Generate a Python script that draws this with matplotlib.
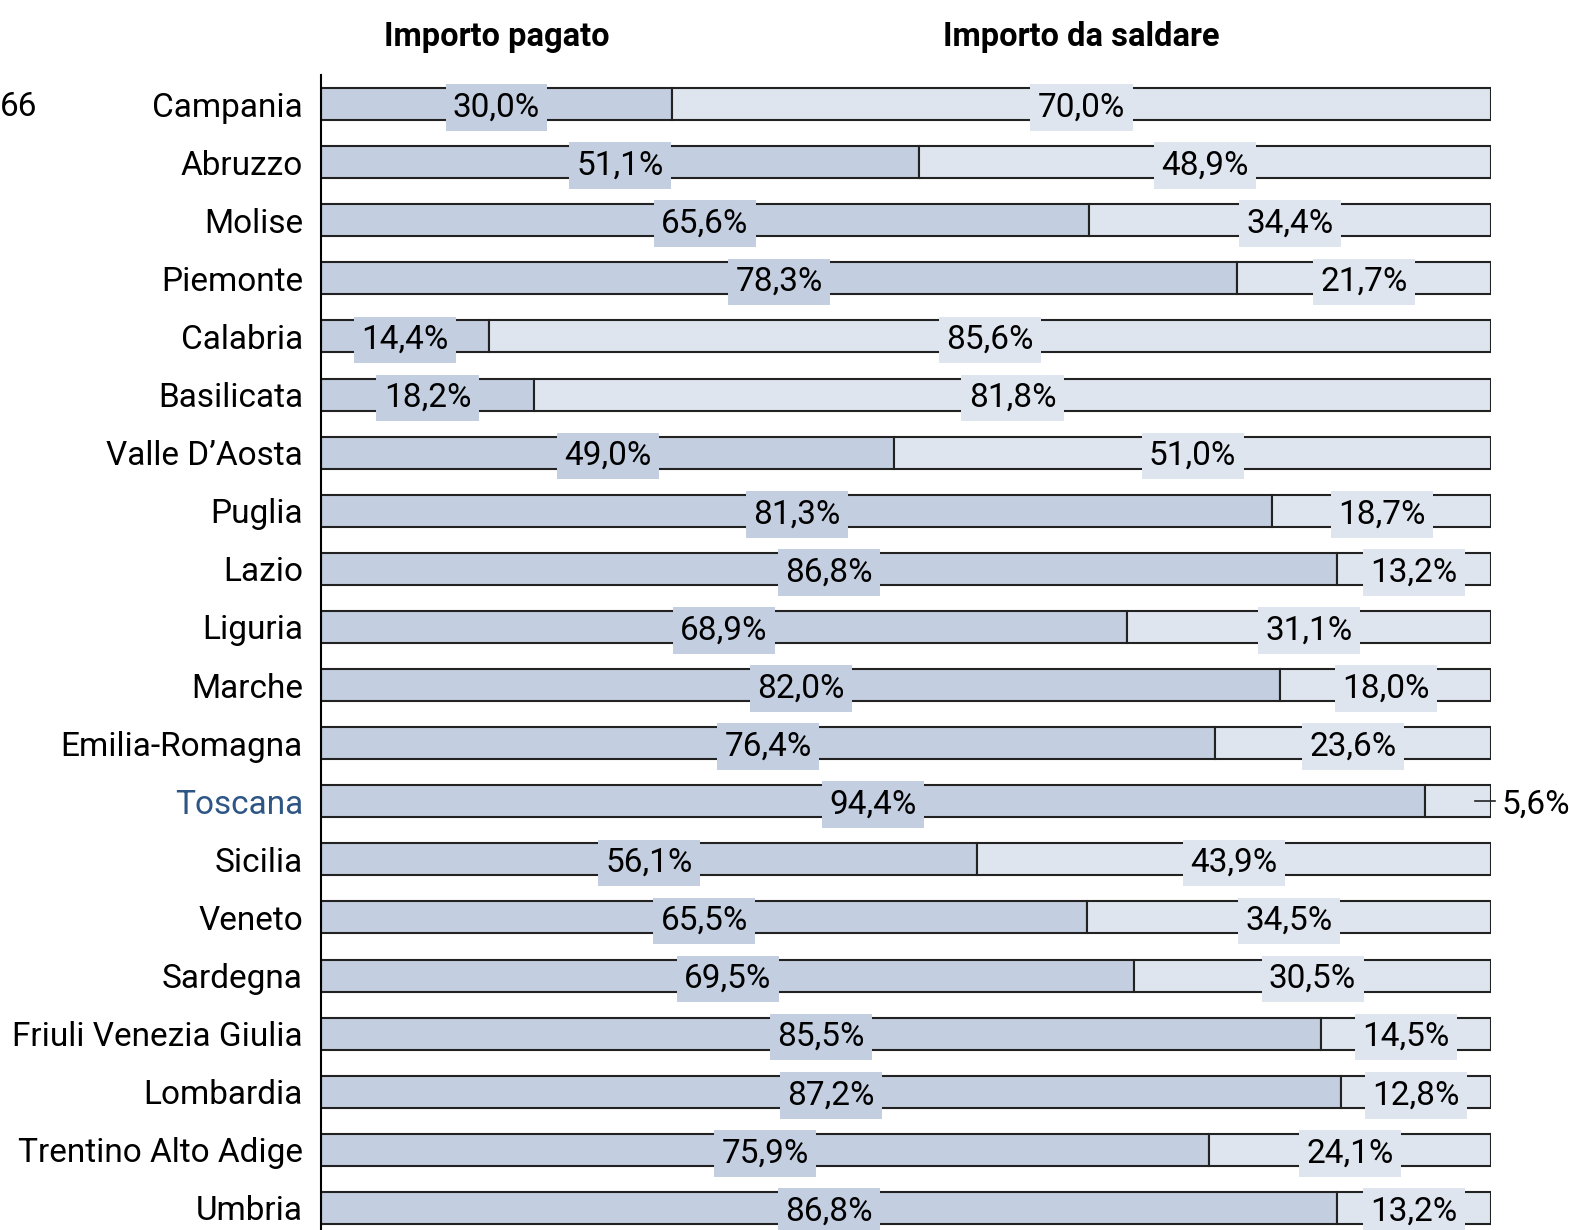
import numpy as np
import matplotlib
matplotlib.use("Agg")
import matplotlib.pyplot as plt


# Data
regions = ["Campania", "Abruzzo", "Molise", "Piemonte", "Calabria", "Basilicata",
           "Valle D\u2019Aosta", "Puglia", "Lazio", "Liguria", "Marche",
           "Emilia-Romagna", "Toscana", "Sicilia", "Veneto", "Sardegna",
           "Friuli Venezia Giulia", "Lombardia", "Trentino Alto Adige", "Umbria"]
pagato = [30.0, 51.1, 65.6, 78.3, 14.4, 18.2, 49.0, 81.3, 86.8, 68.9,
          82.0, 76.4, 94.4, 56.1, 65.5, 69.5, 85.5, 87.2, 75.9, 86.8]
saldare = [70.0, 48.9, 34.4, 21.7, 85.6, 81.8, 51.0, 18.7, 13.2, 31.1,
           18.0, 23.6, 5.6, 43.9, 34.5, 30.5, 14.5, 12.8, 24.1, 13.2]
series_titles = ["Importo pagato", "Importo da saldare"]
highlight = "Toscana"

col_pag = "#c3cee0"
col_sal = "#dfe5ef"
col_hl = "#2e5685"

plt.rcParams['font.family'] = ['Roboto', 'DejaVu Sans']

fig = plt.figure(figsize=(15.69, 12.30), dpi=100)
ax = fig.add_axes([321/1569, 1 - 1237/1230, 1170/1569, 1162/1230])

y = np.arange(len(regions))
pagato = np.array(pagato)
saldare = np.array(saldare)

ax.barh(y, pagato, height=0.55, color=col_pag, edgecolor="#222222", linewidth=1.5)
ax.barh(y, saldare, left=pagato, height=0.55, color=col_sal, edgecolor="#222222", linewidth=1.5)

ax.set_xlim(0, 100)
ax.set_ylim(len(regions) - 0.5, -0.5)

fs = 24
for i in range(len(regions)):
    p, s = pagato[i], saldare[i]
    ax.text(p / 2, i, ("%.1f%%" % p).replace(".", ","), ha="center", va="center_baseline",
            fontsize=fs, bbox=dict(boxstyle="square,pad=0.22", fc=col_pag, ec="none"))
    lab = ("%.1f%%" % s).replace(".", ",")
    if s < 8:
        # too small: put it outside with a leader line
        ax.plot([98.6, 100.3], [i, i], color="#222222", lw=1.2, clip_on=False)
        ax.text(100.9, i, lab, ha="left", va="center_baseline", fontsize=fs)
    else:
        ax.text(p + s / 2, i, lab, ha="center", va="center_baseline", fontsize=fs,
                bbox=dict(boxstyle="square,pad=0.22", fc=col_sal, ec="none"))

# column headers above the first row
ax.text(pagato[0] / 2, -1.15, series_titles[0], ha="center", va="center",
        fontsize=23.5, fontweight="bold", clip_on=False)
ax.text(pagato[0] + saldare[0] / 2, -1.15, series_titles[1], ha="center", va="center",
        fontsize=23.5, fontweight="bold", clip_on=False)

ax.set_yticks(y)
ax.set_yticklabels(regions, fontsize=fs)
for t in ax.get_yticklabels():
    if t.get_text() == highlight:
        t.set_color(col_hl)
ax.tick_params(axis="y", length=0, pad=13)
ax.set_xticks([])
for sp in ["top", "right", "bottom"]:
    ax.spines[sp].set_visible(False)
ax.spines["left"].set_linewidth(1.5)

# stray leftover text at the very left edge
fig.text(0.0, 1 - 104/1230, "66", ha="left", va="center_baseline", fontsize=fs)

fig.savefig("out.png", dpi=100)
